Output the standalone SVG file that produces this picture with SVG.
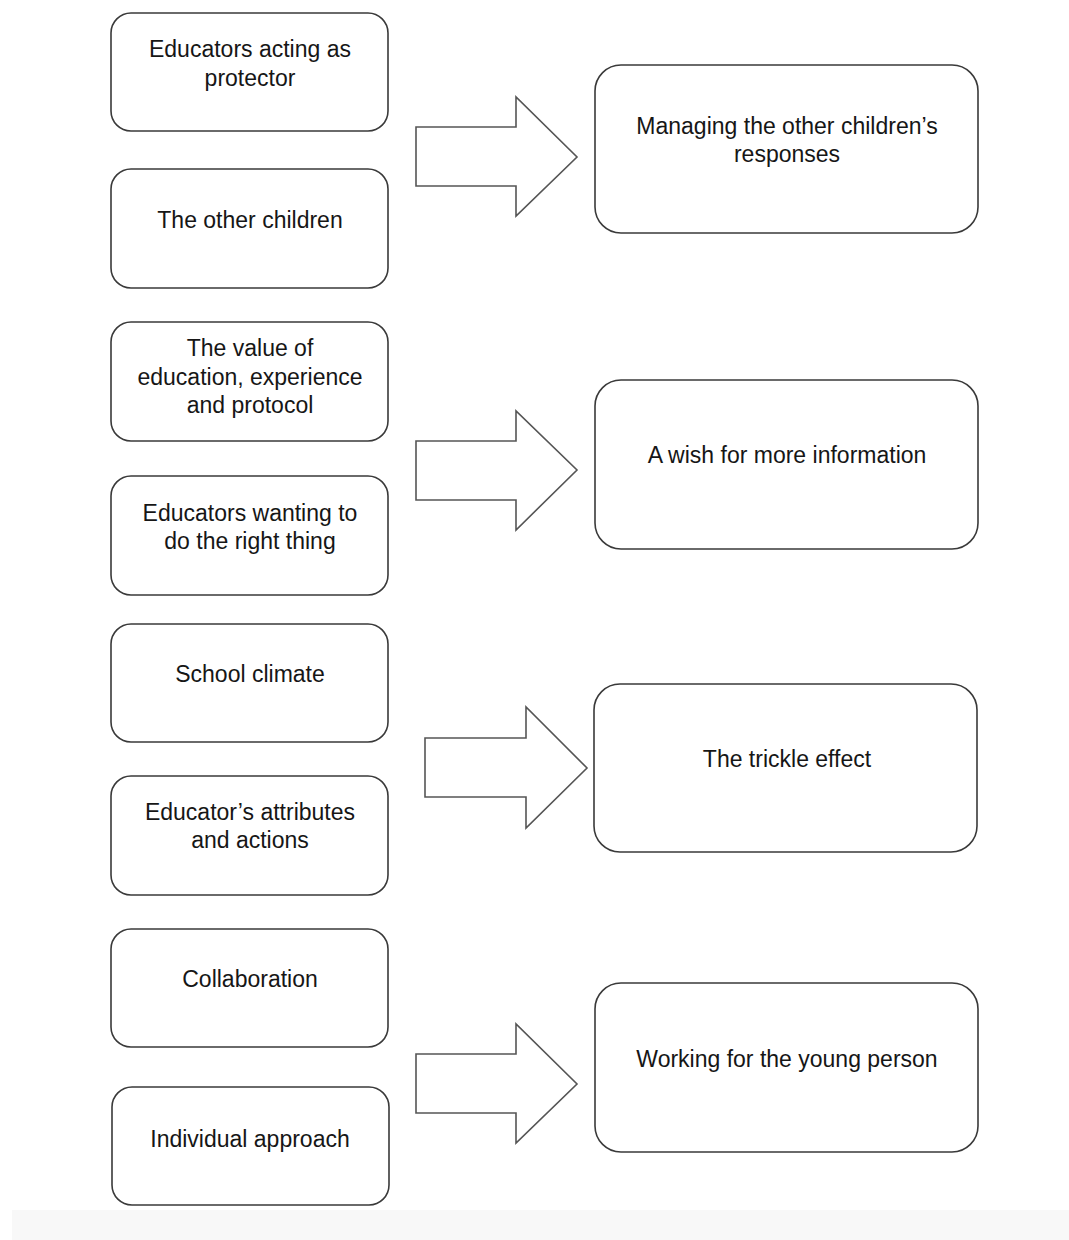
<svg xmlns="http://www.w3.org/2000/svg" width="1069" height="1240" viewBox="0 0 1069 1240">
  <style>
    .box { fill: #ffffff; stroke: #3a3a3a; stroke-width: 1.6; }
    .arrow { fill: #ffffff; stroke: #555555; stroke-width: 1.6; stroke-linejoin: miter; }
    .label { font-family: "Liberation Sans", Arial, sans-serif; font-size: 23px; fill: #161616; text-anchor: middle; }
  </style>
  <rect x="0" y="0" width="1069" height="1240" fill="#ffffff"/>
  <rect x="12" y="1210" width="1057" height="30" fill="#f8f8f8"/>

  <!-- left column: contributing themes -->
  <g id="educators-protector">
    <rect class="box" x="111" y="13" width="277" height="118" rx="20"/>
    <text class="label" x="250" y="57">Educators acting as</text>
    <text class="label" x="250" y="86">protector</text>
  </g>
  <g id="other-children">
    <rect class="box" x="111" y="169" width="277" height="119" rx="20"/>
    <text class="label" x="250" y="228">The other children</text>
  </g>
  <g id="value-of-education">
    <rect class="box" x="111" y="322" width="277" height="119" rx="20"/>
    <text class="label" x="250" y="356">The value of</text>
    <text class="label" x="250" y="385">education, experience</text>
    <text class="label" x="250" y="413">and protocol</text>
  </g>
  <g id="right-thing">
    <rect class="box" x="111" y="476" width="277" height="119" rx="20"/>
    <text class="label" x="250" y="521">Educators wanting to</text>
    <text class="label" x="250" y="549">do the right thing</text>
  </g>
  <g id="school-climate">
    <rect class="box" x="111" y="624" width="277" height="118" rx="20"/>
    <text class="label" x="250" y="682">School climate</text>
  </g>
  <g id="educator-attributes">
    <rect class="box" x="111" y="776" width="277" height="119" rx="20"/>
    <text class="label" x="250" y="820">Educator’s attributes</text>
    <text class="label" x="250" y="848">and actions</text>
  </g>
  <g id="collaboration">
    <rect class="box" x="111" y="929" width="277" height="118" rx="20"/>
    <text class="label" x="250" y="987">Collaboration</text>
  </g>
  <g id="individual-approach">
    <rect class="box" x="112" y="1087" width="277" height="118" rx="20"/>
    <text class="label" x="250" y="1147">Individual approach</text>
  </g>

  <!-- right column: overarching themes -->
  <g id="managing-responses">
    <rect class="box" x="595" y="65" width="383" height="168" rx="26"/>
    <text class="label" x="787" y="134">Managing the other children’s</text>
    <text class="label" x="787" y="162">responses</text>
  </g>
  <g id="more-information">
    <rect class="box" x="595" y="380" width="383" height="169" rx="26"/>
    <text class="label" x="787" y="463">A wish for more information</text>
  </g>
  <g id="trickle-effect">
    <rect class="box" x="594" y="684" width="383" height="168" rx="26"/>
    <text class="label" x="787" y="767">The trickle effect</text>
  </g>
  <g id="young-person">
    <rect class="box" x="595" y="983" width="383" height="169" rx="26"/>
    <text class="label" x="787" y="1067">Working for the young person</text>
  </g>

  <!-- block arrows linking each pair to its theme -->
  <g id="connectors">
    <polygon class="arrow" points="416,127 516,127 516,97 577,157 516,216 516,186 416,186"/>
    <polygon class="arrow" points="416,441 516,441 516,411 577,470 516,530 516,500 416,500"/>
    <polygon class="arrow" points="425,738 526,738 526,707 587,768 526,828 526,797 425,797"/>
    <polygon class="arrow" points="416,1054 516,1054 516,1024 577,1084 516,1143 516,1113 416,1113"/>
  </g>
</svg>
